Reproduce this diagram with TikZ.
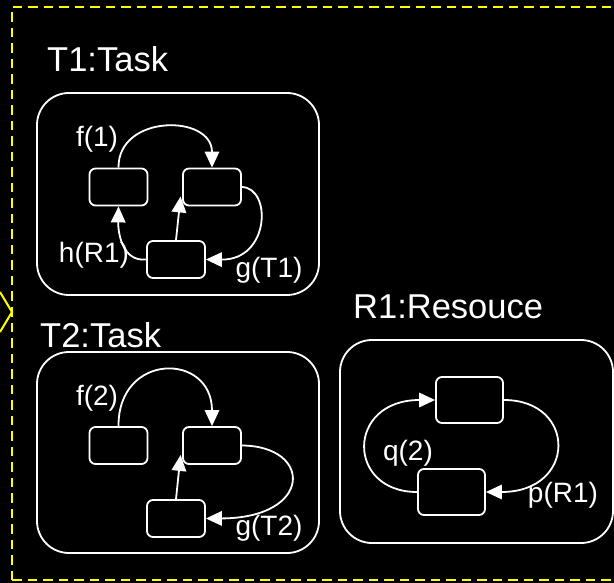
\documentclass[tikz,border=0pt]{standalone}
\usepackage{fontspec}
\setmainfont{Liberation Sans}
\usetikzlibrary{arrows.meta}
\definecolor{frameyellow}{RGB}{255,255,0}
\tikzset{
  state/.style={draw=white, line width=1.8pt, rounded corners=6pt, inner sep=0pt,
    minimum width=58pt, minimum height=37pt},
  region/.style={draw=white, line width=1.8pt, rounded corners=32pt, inner sep=0pt},
  title/.style={text=white, inner sep=0pt, anchor=base west, font=\fontsize{34.5}{40}\selectfont},
  lbl/.style={text=white, inner sep=0pt, font=\fontsize{28}{33}\selectfont},
  trans/.style={draw=white, line width=1.8pt, -{Triangle[length=16pt,width=14.5pt]}},
}
\begin{document}
\begin{tikzpicture}[x=1pt,y=-1pt]
  \useasboundingbox (0,0) rectangle (614,583);
  \fill[black] (0,0) rectangle (614,583);
  \clip (0,0) rectangle (614,583);

  % enclosing dashed frame and the incoming arrow tip on its left edge
  \draw[frameyellow, line width=2pt, dash pattern=on 9.5pt off 6pt]
    (12,580) -- (12,7) -- (630,7) (12,580) -- (630,580);
  \coordinate (entry) at (12,312);
  \draw[frameyellow, line width=2pt] (0,292) -- (entry) -- (0,332);

  % ---- T1:Task ----
  \node[title] (t1title) at (47,72) {T1:Task};
  \node[region, minimum width=282pt, minimum height=202pt] (t1) at (178,194) {};
  \node[state] (t1a) at (118.5,187) {};
  \node[state] (t1b) at (212,187) {};
  \node[state] (t1c) at (176,259.5) {};
  \draw[trans] (t1a.north) .. controls (118,114) and (212,114) .. (t1b.north);
  \draw[trans] (t1c.north) -- ([xshift=-1.5pt,yshift=10pt]t1b.south west);
  \draw[trans] (t1b.east) .. controls (272,188) and (270,260) .. (t1c.east);
  \draw[trans] (t1c.west) .. controls (122,262) and (118,232) .. (t1a.south);
  \node[lbl] (t1f) at (97,139) {f(1)};
  \node[lbl] (t1h) at (94,255) {h(R1)};
  \node[lbl] (t1g) at (269,270) {g(T1)};

  % ---- T2:Task ----
  \node[title] (t2title) at (40,347) {T2:Task};
  \node[region, minimum width=282pt, minimum height=201pt] (t2) at (178,452.5) {};
  \node[state] (t2a) at (118.5,445.5) {};
  \node[state] (t2b) at (212,445.5) {};
  \node[state] (t2c) at (176,518.5) {};
  \draw[trans] (t2a.north) .. controls (118,352) and (212,352) .. (t2b.north);
  \draw[trans] (t2c.north) -- ([xshift=-1.5pt,yshift=10pt]t2b.south west);
  \draw[trans] (t2b.east) .. controls (313,446) and (313,518) .. (t2c.east);
  \node[lbl] (t2f) at (97,398) {f(2)};
  \node[lbl] (t2g) at (269,528) {g(T2)};

  % ---- R1:Resouce ----
  \node[title] (r1title) at (353,318) {R1:Resouce};
  \node[region, minimum width=273pt, minimum height=203pt] (r1) at (476.5,441.5) {};
  \node[state, minimum width=67pt, minimum height=46pt] (r1a) at (469.5,400) {};
  \node[state, minimum width=67pt, minimum height=46pt] (r1b) at (451.5,492) {};
  \draw[trans] (r1a.east) .. controls (577,400) and (577,492) .. (r1b.east);
  \draw[trans] (r1b.west) .. controls (346,492) and (346,400) .. (r1a.west);
  \node[lbl] (r1q) at (408,453) {q(2)};
  \node[lbl] (r1p) at (563,495) {p(R1)};
\end{tikzpicture}
\end{document}
